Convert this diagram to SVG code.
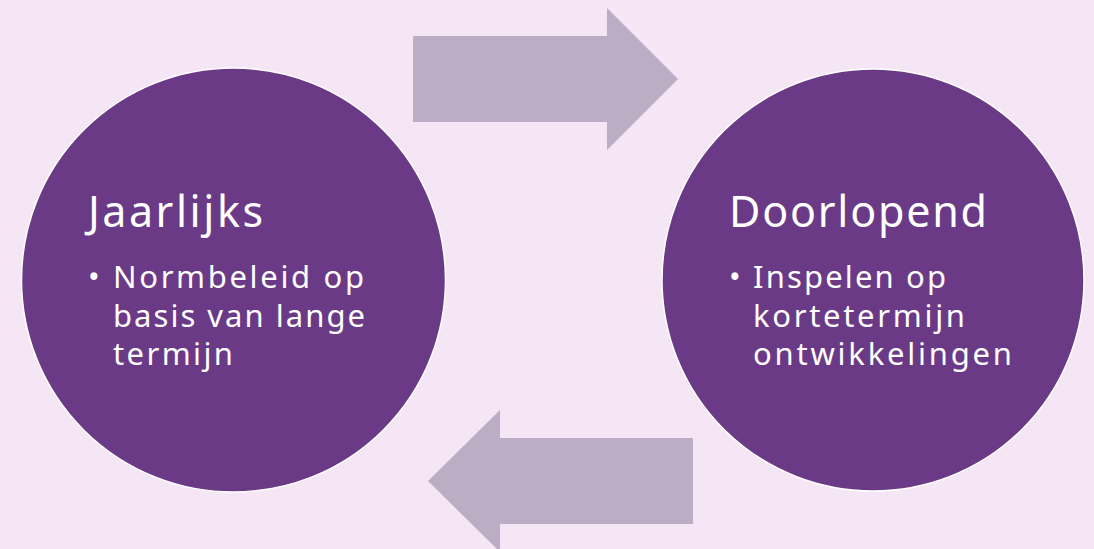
<svg xmlns="http://www.w3.org/2000/svg" width="1094" height="549" viewBox="0 0 1094 549">
<style>
.bg{fill:#F4E6F5}
.arrow{fill:#BBADC4}
.circle{fill:#6B3A87;stroke:#FFFFFF;stroke-width:1.5}
.h{font-family:"Noto Sans","Open Sans",sans-serif;font-size:43px;fill:#FFFFFF}
.b{font-family:"Noto Sans","Open Sans",sans-serif;font-size:31px;fill:#FFFFFF}
</style>
<rect class="bg" x="0" y="0" width="1094" height="549"/>
<g id="connectors">
<polygon id="arrow-right" class="arrow" points="413,36 607,36 607,8 678,79 607,150 607,122 413,122"/>
<polygon id="arrow-left" class="arrow" points="693,438 500,438 500,410 428,481 500,552 500,524 693,524"/>
</g>
<g id="node-jaarlijks">
<circle class="circle" cx="233.5" cy="280" r="212"/>
<text class="h" x="88" y="227" textLength="175" lengthAdjust="spacing">Jaarlijks</text>
<text class="b" x="88" y="288">•</text>
<text class="b" x="113" y="288" textLength="251" lengthAdjust="spacing">Normbeleid op</text>
<text class="b" x="113" y="327" textLength="252" lengthAdjust="spacing">basis van lange</text>
<text class="b" x="113" y="365" textLength="120" lengthAdjust="spacing">termijn</text>
</g>
<g id="node-doorlopend">
<circle class="circle" cx="873" cy="280" r="211"/>
<text class="h" x="729" y="227" textLength="258" lengthAdjust="spacing">Doorlopend</text>
<text class="b" x="729" y="288">•</text>
<text class="b" x="753" y="288" textLength="193" lengthAdjust="spacing">Inspelen op</text>
<text class="b" x="753" y="327" textLength="212" lengthAdjust="spacing">kortetermijn</text>
<text class="b" x="753" y="365" textLength="259" lengthAdjust="spacing">ontwikkelingen</text>
</g>
</svg>
